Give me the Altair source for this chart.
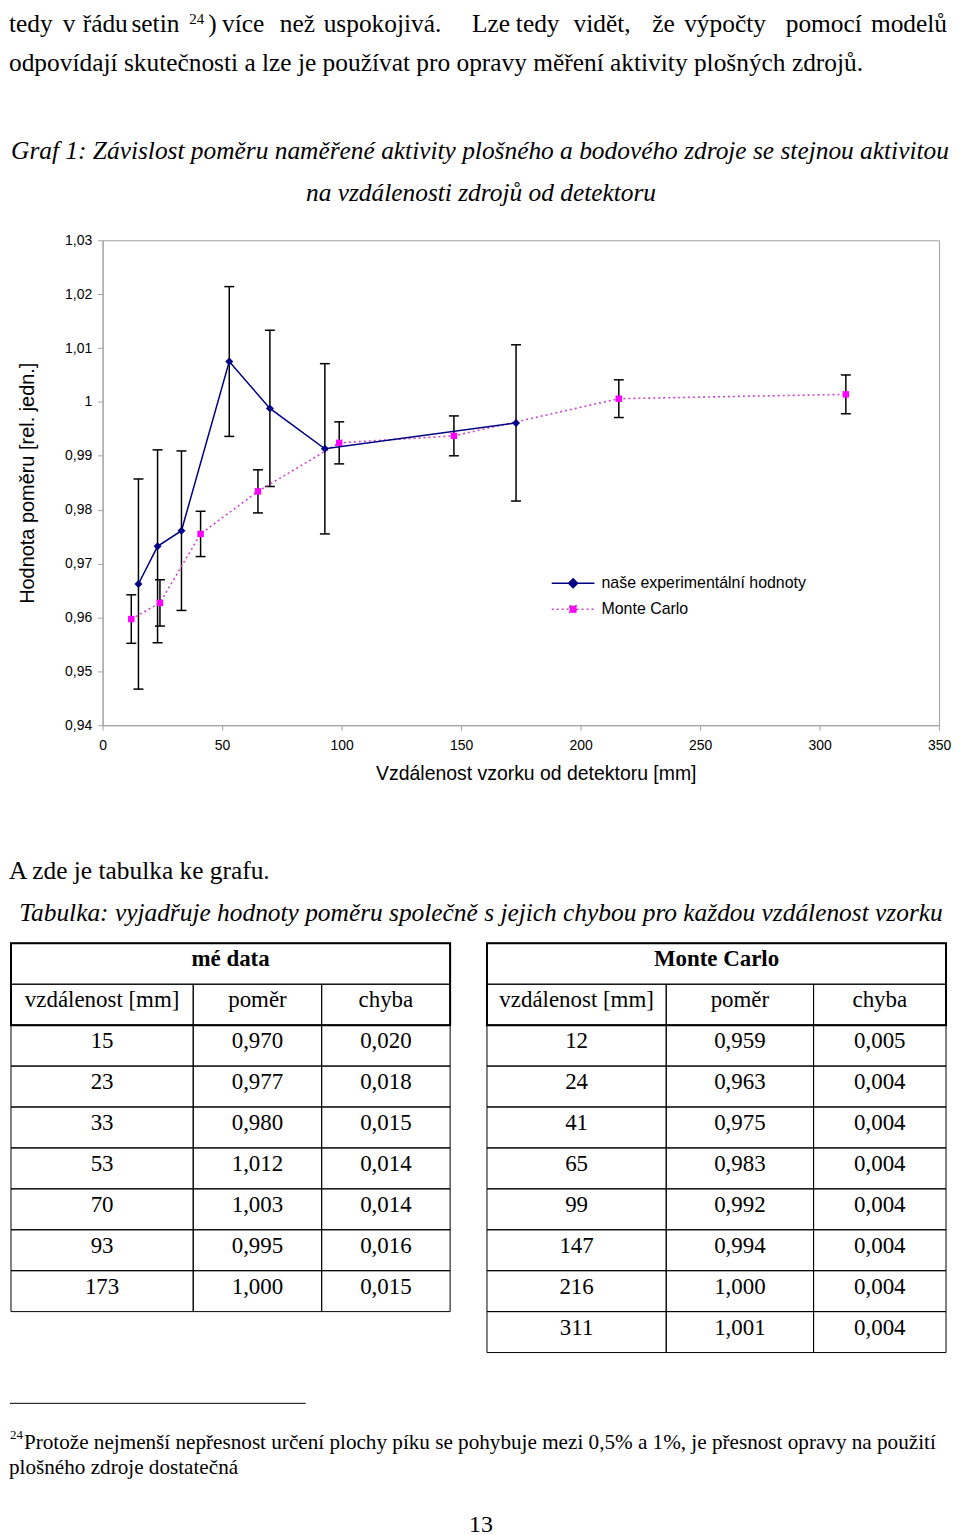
import altair as alt
import pandas as pd

# ---------------- values ----------------
exp_dist = [15, 23, 33, 53, 70, 93, 173]
exp_ratio = [0.9662, 0.9732, 0.9761, 1.0075, 0.9988, 0.9913, 0.9961]
exp_err = [0.0195, 0.0179, 0.0148, 0.0139, 0.0145, 0.0158, 0.0145]

mc_dist = [12, 24, 41, 65, 99, 147, 216, 311]
mc_ratio = [0.9597, 0.9627, 0.9755, 0.9834, 0.9924, 0.9937, 1.0006, 1.0014]
mc_err = [0.0045, 0.0043, 0.0042, 0.0040, 0.0039, 0.0037, 0.0035, 0.0036]

series = ["naše experimentální hodnoty", "Monte Carlo"]
x_ticks = [0, 50, 100, 150, 200, 250, 300, 350]
y_ticks = [0.94, 0.95, 0.96, 0.97, 0.98, 0.99, 1.00, 1.01, 1.02, 1.03]

# table contents
table_titles = ["mé data", "Monte Carlo"]
table_heads = ["vzdálenost [mm]", "poměr", "chyba"]
tab1_dist = ["15", "23", "33", "53", "70", "93", "173"]
tab1_ratio = ["0,970", "0,977", "0,980", "1,012", "1,003", "0,995", "1,000"]
tab1_err = ["0,020", "0,018", "0,015", "0,014", "0,014", "0,016", "0,015"]
tab2_dist = ["12", "24", "41", "65", "99", "147", "216", "311"]
tab2_ratio = ["0,959", "0,963", "0,975", "0,983", "0,992", "0,994", "1,000", "1,001"]
tab2_err = ["0,005", "0,004", "0,004", "0,004", "0,004", "0,004", "0,004", "0,004"]

# page text
para1_words = ["tedy", "v", "řádu", "setin", ")", "více", "než", "uspokojivá.", "Lze",
               "tedy", "vidět,", "že", "výpočty", "pomocí", "modelů"]
para1_sup = "24"
para2 = "odpovídají skutečnosti a lze je používat pro opravy měření aktivity plošných zdrojů."
graf_1 = "Graf 1: Závislost poměru naměřené aktivity plošného a bodového zdroje se stejnou aktivitou"
graf_2 = "na vzdálenosti zdrojů od detektoru"
x_title = "Vzdálenost vzorku od detektoru [mm]"
y_title = "Hodnota poměru [rel. jedn.]"
mid_1 = "A zde je tabulka ke grafu."
mid_2 = "Tabulka: vyjadřuje hodnoty poměru společně s jejich chybou pro každou vzdálenost vzorku"
foot_sup = "24"
foot_1 = "Protože nejmenší nepřesnost určení plochy píku se pohybuje mezi 0,5% a 1%, je přesnost opravy na použití"
foot_2 = "plošného zdroje dostatečná"
page_no = "13"

# ---------------- styles / layout ----------------
SERIF = "Liberation Serif"
SANS = "Liberation Sans"
NAVY = "#000080"
MAGENTA = "#ff00ff"
MC_LINE = "#cc44cc"
FRAME = "#a0a0a0"
BODY = 25.5

PX0 = 102  # page x of the plot area's left edge (common origin)
TOP_HEADER, TOP_PLOT, TOP_TAB, TOP_FOOT = 8, 237, 943, 1354
PLOT_H = 487
TOP_MID = TOP_PLOT + PLOT_H
W = 846
ONE = alt.Data(values=[{"k": 0}])

# left page x of the words of the justified first line (last one: right edge)
para1_word_x = [8, 62, 82, 131, 208, 222, 280, 324, 473, 517, 575, 654, 686, 788, 950]


def T(sec_top, s, px, py, size=BODY, style="normal", weight="normal", align="left", font=SERIF):
    return alt.Chart(ONE).mark_text(
        text=s, font=font, fontSize=size, fontStyle=style, fontWeight=weight,
        align=align, baseline="alphabetic", color="black"
    ).encode(x=alt.value(px - PX0), y=alt.value(py - sec_top))


# ---------------- header ----------------
line1 = [T(TOP_HEADER, w, x, 28, align=("right" if i == len(para1_words) - 1 else "left"))
         for i, (w, x) in enumerate(zip(para1_words, para1_word_x))]
header = alt.layer(
    *line1,
    T(TOP_HEADER, para1_sup, 189, 20, size=15),
    T(TOP_HEADER, para2, 8, 67),
    T(TOP_HEADER, graf_1, 481, 155, style="italic", align="center"),
    T(TOP_HEADER, graf_2, 482, 198, style="italic", align="center"),
).properties(width=W, height=TOP_PLOT - TOP_HEADER)

# ---------------- plot ----------------
exp_df = pd.DataFrame({"x": exp_dist, "y": exp_ratio, "s": series[0]})
exp_df["lo"] = [v - e for v, e in zip(exp_ratio, exp_err)]
exp_df["hi"] = [v + e for v, e in zip(exp_ratio, exp_err)]
mc_df = pd.DataFrame({"x": mc_dist, "y": mc_ratio, "s": series[1]})
mc_df["lo"] = [v - e for v, e in zip(mc_ratio, mc_err)]
mc_df["hi"] = [v + e for v, e in zip(mc_ratio, mc_err)]
err_df = pd.concat([exp_df, mc_df], ignore_index=True)

xs = alt.Scale(domain=[0, 350], nice=False, zero=False)
ys = alt.Scale(domain=[0.94, 1.03], nice=False, zero=False)
x_axis = alt.Axis(
    values=x_ticks, grid=False, domainColor=FRAME, tickColor=FRAME, tickSize=5,
    labelFont=SANS, labelFontSize=14, labelColor="black", labelPadding=8,
    labelFlush=False, labelOverlap=False,
    title=x_title, titleFont=SANS, titleFontSize=19.5, titleFontWeight="normal",
    titleColor="black", titlePadding=13, titleX=435,
)
y_axis = alt.Axis(
    values=y_ticks, grid=False, domainColor=FRAME, tickColor=FRAME, tickSize=5,
    labelFont=SANS, labelFontSize=14, labelColor="black", labelPadding=6,
    labelFlush=False, labelOverlap=False,
    labelExpr="replace(format(datum.value, '.2~f'), '.', ',')",
    title=y_title, titleFont=SANS, titleFontSize=20, titleFontWeight="normal",
    titleColor="black", titlePadding=27,
)


def X(field="x"):
    return alt.X(f"{field}:Q", scale=xs, axis=x_axis)


def Y(field="y"):
    return alt.Y(f"{field}:Q", scale=ys, axis=y_axis)


err_rule = alt.Chart(err_df).mark_rule(color="black", strokeWidth=1.5).encode(
    x=X(), y=Y("lo"), y2="hi:Q")
cap_lo = alt.Chart(err_df).mark_tick(orient="horizontal", size=10, thickness=1.5, color="black", opacity=1).encode(
    x=X(), y=Y("lo"))
cap_hi = alt.Chart(err_df).mark_tick(orient="horizontal", size=10, thickness=1.5, color="black", opacity=1).encode(
    x=X(), y=Y("hi"))
mc_line = alt.Chart(mc_df).mark_line(color=MC_LINE, strokeWidth=1.6, strokeDash=[2, 3]).encode(x=X(), y=Y())
exp_line = alt.Chart(exp_df).mark_line(color=NAVY, strokeWidth=1.5).encode(x=X(), y=Y())

EXP_SYMBOL = "M-1,0L1,0M0,-0.21L0.21,0L0,0.21L-0.21,0Z"
MC_SYMBOL = "M-1,0L1,0M-0.16,-0.16L0.16,-0.16L0.16,0.16L-0.16,0.16Z"

legend_common = dict(orient="none", legendX=450, title=None, padding=0, symbolSize=1849,
                     symbolStrokeWidth=1.5, labelFont=SANS, labelFontSize=16,
                     labelColor="black", labelOffset=6, labelLimit=400)

exp_pts = alt.Chart(exp_df).mark_point(shape="diamond", filled=True, size=64, opacity=1).encode(
    x=X(), y=Y(),
    color=alt.Color("s:N", scale=alt.Scale(domain=[series[0]], range=[NAVY]),
                    legend=alt.Legend(legendY=322, symbolType=EXP_SYMBOL,
                                      symbolStrokeColor=NAVY, **legend_common)))
mc_pts = alt.Chart(mc_df).mark_point(shape="square", filled=True, size=42, opacity=1).encode(
    x=X(), y=Y(),
    color=alt.Color("s:N", scale=alt.Scale(domain=[series[1]], range=[MAGENTA]),
                    legend=alt.Legend(legendY=348, symbolType=MC_SYMBOL,
                                      symbolStrokeColor=MC_LINE, symbolDash=[2, 3],
                                      **legend_common)))

plot = alt.layer(err_rule, cap_lo, cap_hi, mc_line, exp_line, mc_pts, exp_pts).resolve_scale(
    color="independent"
).properties(width=840, height=PLOT_H,
             view=alt.ViewBackground(stroke=FRAME, strokeWidth=1))

# ---------------- middle text ----------------
middle = alt.layer(
    T(TOP_MID, mid_1, 8, 878),
    T(TOP_MID, mid_2, 482, 921, style="italic", align="center"),
).properties(width=W, height=TOP_TAB - TOP_MID)

# ---------------- tables ----------------
L_COLS = [10, 193, 322, 451]
R_COLS = [488, 668, 816, 949]
ROW_H = 41.1


def build_table(cols, title, d, r, e):
    rects, texts, bold = [], [], []
    rects.append(dict(x=cols[0], x2=cols[-1], y=TOP_TAB, y2=TOP_TAB + ROW_H))
    bold.append(dict(x=(cols[0] + cols[-1]) / 2, y=TOP_TAB + 23, t=title))
    rows = [table_heads] + [list(v) for v in zip(d, r, e)]
    for i, row in enumerate(rows):
        top = TOP_TAB + ROW_H * (i + 1)
        for j in range(3):
            rects.append(dict(x=cols[j], x2=cols[j + 1], y=top, y2=top + ROW_H))
            texts.append(dict(x=(cols[j] + cols[j + 1]) / 2, y=top + 23, t=row[j]))
    thick = [dict(x=cols[0], x2=cols[-1], y=TOP_TAB, y2=TOP_TAB + 2 * ROW_H)]
    return rects, texts, bold, thick


r1, t1, b1, k1 = build_table(L_COLS, table_titles[0], tab1_dist, tab1_ratio, tab1_err)
r2, t2, b2, k2 = build_table(R_COLS, table_titles[1], tab2_dist, tab2_ratio, tab2_err)
rect_df = pd.DataFrame(r1 + r2)
text_df = pd.DataFrame(t1 + t2)
bold_df = pd.DataFrame(b1 + b2)
thick_df = pd.DataFrame(k1 + k2)

txs = alt.Scale(domain=[PX0, PX0 + W], nice=False, zero=False)
tys = alt.Scale(domain=[TOP_TAB, TOP_FOOT], nice=False, zero=False, reverse=True)

cells = alt.Chart(rect_df).mark_rect(filled=False, color="black", strokeWidth=1).encode(
    x=alt.X("x:Q", scale=txs, axis=None), x2="x2:Q",
    y=alt.Y("y:Q", scale=tys, axis=None), y2="y2:Q")
thick = alt.Chart(thick_df).mark_rect(filled=False, color="black", strokeWidth=2).encode(
    x=alt.X("x:Q", scale=txs, axis=None), x2="x2:Q",
    y=alt.Y("y:Q", scale=tys, axis=None), y2="y2:Q")
cell_text = alt.Chart(text_df).mark_text(font=SERIF, fontSize=23, baseline="alphabetic",
                                         align="center", color="black").encode(
    x=alt.X("x:Q", scale=txs, axis=None), y=alt.Y("y:Q", scale=tys, axis=None), text="t:N")
head_text = alt.Chart(bold_df).mark_text(font=SERIF, fontSize=23, fontWeight="bold",
                                         baseline="alphabetic", align="center", color="black").encode(
    x=alt.X("x:Q", scale=txs, axis=None), y=alt.Y("y:Q", scale=tys, axis=None), text="t:N")

tables = alt.layer(cells, thick, cell_text, head_text).properties(width=W, height=TOP_FOOT - TOP_TAB)

# ---------------- footer ----------------
foot_rule = alt.Chart(ONE).mark_rule(color="black", strokeWidth=1).encode(
    x=alt.value(9 - PX0), x2=alt.value(306 - PX0), y=alt.value(1405 - TOP_FOOT))
footer = alt.layer(
    foot_rule,
    T(TOP_FOOT, foot_sup, 9, 1441, size=13),
    T(TOP_FOOT, foot_1, 23, 1451, size=21.25),
    T(TOP_FOOT, foot_2, 8, 1476, size=21.25),
    T(TOP_FOOT, page_no, 482, 1534, size=24, align="center"),
).properties(width=W, height=160)

chart = alt.vconcat(header, plot, middle, tables, footer, spacing=0, bounds="flush").properties(
    padding=0
).configure_view(stroke="transparent")

chart.save("out.html", embed_options={"renderer": "svg", "actions": False})
